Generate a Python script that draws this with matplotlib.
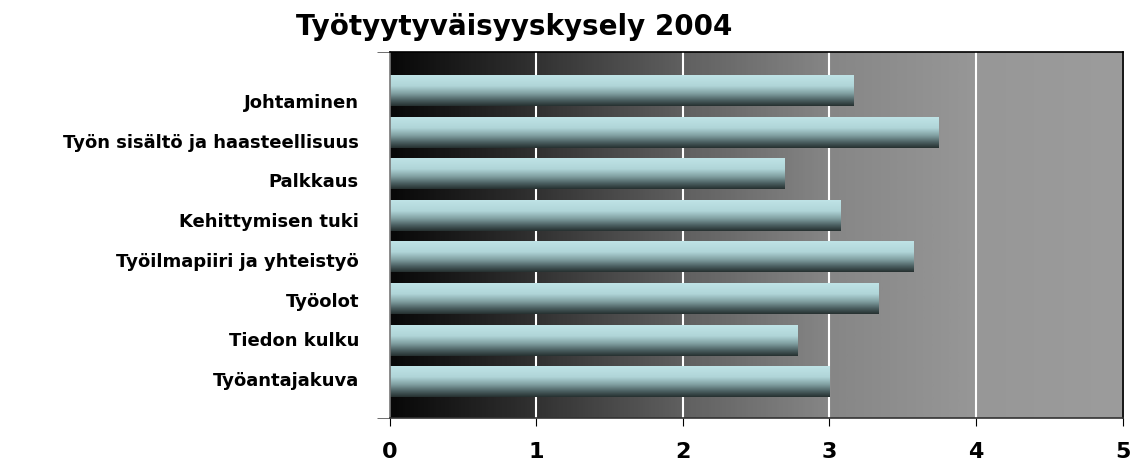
import matplotlib
matplotlib.use("Agg")
import matplotlib.pyplot as plt
import numpy as np
from matplotlib.colors import LinearSegmentedColormap

plt.rcParams['font.family'] = ['DejaVu Sans']

categories = ['Johtaminen', 'Työn sisältö ja haasteellisuus', 'Palkkaus',
              'Kehittymisen tuki', 'Työilmapiiri ja yhteistyö', 'Työolot',
              'Tiedon kulku', 'Työantajakuva']
values = [3.16, 3.74, 2.69, 3.07, 3.57, 3.33, 2.78, 3.00]
xticks = [0, 1, 2, 3, 4, 5]

fig = plt.figure(figsize=(11.34, 4.65), dpi=100)
ax = fig.add_axes([0.3435, 0.101, 0.6464, 0.787])

n = len(categories)
ypos = np.arange(n)

# plot area background: dark on the left, grey on the right
bg = LinearSegmentedColormap.from_list('bg', [(0, '#080808'), (0.2, '#323232'), (0.4, '#606060'),
                                             (0.6, '#868686'), (0.8, '#979797'), (1, '#9c9c9c')])
ax.imshow(np.linspace(0, 1, 400)[None, :], cmap=bg, aspect='auto',
          extent=[0, 5, 7.87, -0.92], zorder=0)

for x in xticks[1:-1]:
    ax.axvline(x, color='white', lw=1.5, zorder=1)

# bars with a vertical shine
bar_cm = LinearSegmentedColormap.from_list('bar', [(0, '#bfe3e6'), (0.35, '#b0d5d8'), (0.6, '#809fa1'),
                                                  (0.82, '#4a5e60'), (1, '#263131')])
grad = np.linspace(0, 1, 100)[:, None]
bars = ax.barh(ypos, values, height=0.744, color='none', edgecolor='none', zorder=2)
for b in bars:
    x0, y0, w, h = b.get_x(), b.get_y(), b.get_width(), b.get_height()
    im = ax.imshow(grad, cmap=bar_cm, aspect='auto', extent=[x0, x0 + w, y0 + h, y0],
                   zorder=2, interpolation='bilinear')
    im.set_clip_path(b)
ax.set_xlim(0, 5)
ax.set_ylim(7.87, -0.92)

ax.set_yticks(np.linspace(0.256, 6.93, n))
ax.set_yticklabels(categories, fontsize=13, fontweight='bold')
ax.tick_params(axis='y', length=0, pad=22)
ax.set_yticks([-0.92, 7.87], minor=True)
ax.tick_params(axis='y', which='minor', length=9.5, direction='out', color='#555555')

ax.set_xticks(xticks)
ax.set_xticklabels([str(t) for t in xticks], fontsize=16, fontweight='bold')
ax.tick_params(axis='x', length=6, direction='out', pad=11)

ax.spines['left'].set_color('#777777')
ax.spines['bottom'].set_color('#333333')
ax.spines['top'].set_color('black')
ax.spines['right'].set_color('black')
for s in ax.spines.values():
    s.set_linewidth(1.2)

fig.text(514 / 1134, 1 - 27 / 465, 'Työtyytyväisyyskysely 2004', ha='center', va='center',
         fontsize=20, fontweight='bold')

fig.savefig('out.png', dpi=100)
